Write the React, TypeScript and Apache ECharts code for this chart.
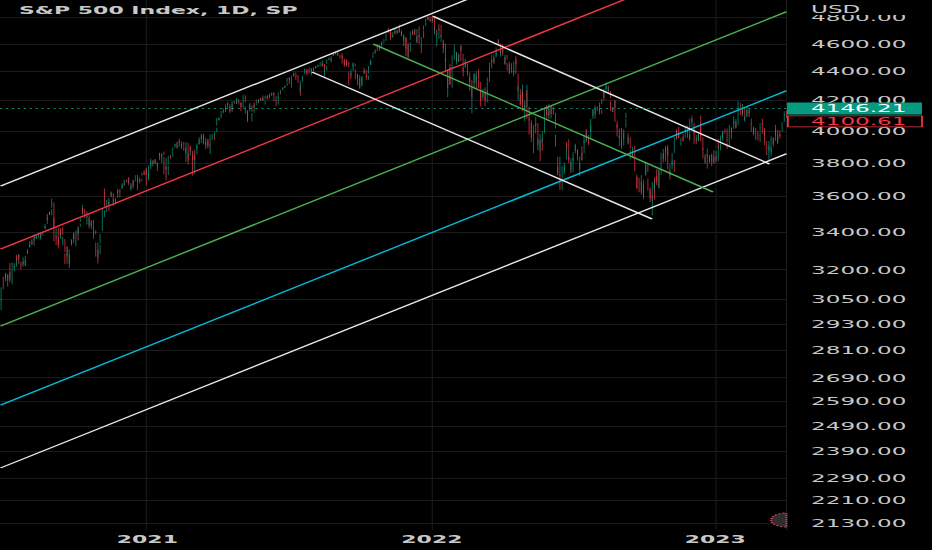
import React, { useEffect, useRef } from "react";
import * as echarts from "echarts";

// ---------- page geometry (the reference picture is stretched horizontally) ----------
const PAGE_W = 932;
const PAGE_H = 550;
const STRETCH_X = 2.2;
const INNER_W = PAGE_W / STRETCH_X;
const PLOT_W = 787 / STRETCH_X;
const GRID_RIGHT = INNER_W - PLOT_W;
const GRID_BOTTOM = 20;

// ---------- texts ----------
const chartTitle = "S&P 500 Index, 1D, SP";
const currency = "USD";

// ---------- calendar ----------
const firstDay = "2020-06-29";
const lastDay = "2023-04-04";
const holidays = [
  "2020-07-03", "2020-09-07", "2020-11-26", "2020-12-25",
  "2021-01-01", "2021-01-18", "2021-02-15", "2021-04-02", "2021-05-31", "2021-07-05", "2021-09-06", "2021-11-25", "2021-12-24",
  "2022-01-17", "2022-02-21", "2022-04-15", "2022-05-30", "2022-06-20", "2022-07-04", "2022-09-05", "2022-11-24", "2022-12-26",
  "2023-01-02", "2023-01-16", "2023-02-20",
];

// ---------- y axis ----------
const yTickValues = [2130, 2210, 2290, 2390, 2490, 2590, 2690, 2810, 2930, 3050, 3200, 3400, 3600, 3800, 4000, 4200, 4400, 4600, 4800];
const yMinPrice = 2106;
const yMaxPrice = 4937;
const quotePrice = 4146.21;
const lastClose = 4100.61;

// ---------- daily candles [open, high, low, close] ----------
const jun2020 = [[3018,3053,2999,3053],[3050,3111,3047,3100]];
const jul2020 = [[3105,3128,3101,3116],[3143,3165,3124,3130],[3155,3182,3155,3179],[3166,3184,3142,3145],[3154,3172,3145,3169],[3176,3179,3115,3152],[3152,3187,3136,3185],[3205,3235,3150,3155],[3141,3201,3127,3197],[3225,3238,3201,3227],[3208,3221,3193,3216],[3224,3234,3209,3225],[3224,3259,3216,3251],[3269,3277,3247,3257],[3255,3279,3252,3276],[3271,3280,3229,3236],[3219,3228,3201,3216],[3227,3242,3225,3239],[3234,3243,3216,3218],[3228,3264,3228,3258],[3232,3250,3220,3246],[3270,3272,3220,3271]];
const aug2020 = [[3288,3302,3284,3295],[3289,3307,3283,3306],[3317,3331,3317,3327],[3323,3351,3318,3349],[3341,3353,3329,3352],[3357,3364,3336,3360],[3370,3381,3327,3333],[3356,3387,3355,3380],[3372,3387,3363,3373],[3368,3378,3362,3373],[3380,3387,3379,3381],[3388,3396,3371,3390],[3392,3399,3369,3375],[3360,3391,3358,3385],[3386,3399,3380,3397],[3418,3432,3414,3431],[3435,3444,3422,3443],[3449,3481,3444,3478],[3485,3501,3468,3484],[3495,3510,3495,3508],[3509,3514,3494,3500]];
const sep2020 = [[3507,3528,3494,3526],[3543,3588,3535,3580],[3565,3565,3427,3455],[3453,3479,3350,3427],[3371,3379,3329,3331],[3370,3424,3367,3399],[3412,3425,3329,3339],[3353,3368,3311,3341],[3364,3402,3364,3383],[3407,3420,3385,3401],[3411,3428,3384,3385],[3346,3376,3328,3357],[3357,3362,3292,3319],[3285,3286,3229,3281],[3295,3320,3270,3315],[3320,3324,3232,3237],[3226,3279,3209,3247],[3236,3306,3228,3298],[3334,3361,3334,3351],[3350,3357,3327,3335],[3341,3393,3340,3363]];
const oct2020 = [[3385,3397,3361,3380],[3339,3370,3323,3348],[3367,3409,3367,3409],[3408,3431,3354,3361],[3385,3426,3385,3419],[3434,3447,3428,3447],[3459,3482,3456,3477],[3500,3550,3496,3535],[3534,3534,3500,3512],[3515,3528,3477,3489],[3453,3489,3441,3483],[3493,3515,3484,3484],[3493,3502,3420,3427],[3439,3476,3435,3443],[3439,3465,3433,3436],[3438,3461,3415,3453],[3464,3466,3441,3465],[3441,3441,3364,3401],[3404,3409,3388,3391],[3342,3342,3268,3271],[3278,3342,3260,3310],[3293,3305,3233,3270]];
const nov2020 = [[3296,3330,3280,3310],[3337,3389,3337,3370],[3406,3486,3405,3444],[3485,3529,3485,3510],[3508,3521,3484,3509],[3583,3646,3543,3551],[3544,3558,3511,3545],[3564,3581,3557,3573],[3562,3569,3518,3537],[3552,3593,3552,3585],[3600,3629,3600,3627],[3611,3624,3595,3610],[3612,3619,3567,3568],[3559,3585,3543,3582],[3580,3582,3556,3558],[3567,3590,3553,3578],[3594,3643,3592,3635],[3635,3636,3617,3630],[3639,3644,3630,3638],[3635,3635,3594,3622]];
const dec2020 = [[3645,3678,3645,3662],[3654,3670,3645,3669],[3669,3682,3661,3666],[3671,3699,3670,3699],[3695,3698,3684,3692],[3683,3708,3678,3702],[3706,3713,3665,3673],[3659,3678,3645,3668],[3656,3665,3634,3663],[3676,3698,3646,3647],[3667,3695,3660,3695],[3697,3711,3688,3702],[3713,3725,3710,3722],[3722,3727,3685,3709],[3684,3703,3636,3694],[3698,3698,3676,3687],[3693,3711,3689,3690],[3694,3703,3689,3703],[3723,3740,3723,3735],[3751,3756,3724,3727],[3736,3744,3730,3732],[3734,3760,3726,3756]];
const jan2021 = [[3764,3770,3663,3701],[3699,3738,3695,3726],[3712,3784,3705,3748],[3764,3811,3764,3804],[3815,3827,3784,3825],[3803,3818,3795,3799],[3801,3811,3777,3801],[3802,3820,3792,3810],[3815,3823,3792,3795],[3789,3796,3750,3768],[3781,3804,3780,3798],[3817,3860,3816,3852],[3857,3862,3845,3853],[3844,3852,3831,3841],[3851,3859,3798,3855],[3862,3870,3847,3849],[3836,3836,3732,3750],[3756,3830,3756,3787],[3778,3778,3694,3714]];
const feb2021 = [[3732,3784,3726,3774],[3791,3843,3791,3826],[3840,3848,3822,3830],[3837,3872,3836,3872],[3878,3894,3874,3887],[3893,3916,3892,3915],[3910,3919,3907,3911],[3921,3932,3889,3910],[3916,3925,3890,3916],[3911,3935,3900,3934],[3939,3950,3923,3933],[3918,3933,3900,3931],[3916,3916,3885,3913],[3921,3931,3905,3907],[3885,3902,3874,3877],[3857,3896,3805,3881],[3874,3929,3859,3925],[3915,3925,3815,3829],[3839,3862,3789,3811]];
const mar2021 = [[3842,3902,3842,3901],[3903,3906,3868,3870],[3863,3873,3819,3820],[3818,3843,3723,3768],[3793,3851,3730,3842],[3844,3881,3818,3821],[3851,3904,3851,3875],[3891,3918,3885,3898],[3915,3960,3915,3939],[3924,3944,3915,3943],[3942,3970,3923,3969],[3973,3982,3949,3963],[3949,3983,3935,3974],[3953,3970,3914,3915],[3913,3930,3886,3913],[3916,3956,3910,3940],[3938,3949,3901,3911],[3920,3942,3889,3889],[3880,3919,3854,3910],[3918,3978,3908,3975],[3969,3981,3943,3971],[3963,3968,3944,3959],[3968,3994,3965,3973]];
const apr2021 = [[3993,4021,3993,4020],[4034,4084,4034,4078],[4075,4087,4069,4074],[4074,4084,4068,4080],[4090,4099,4083,4097],[4097,4129,4096,4129],[4124,4131,4115,4128],[4130,4148,4124,4142],[4141,4152,4123,4125],[4140,4174,4140,4170],[4174,4192,4171,4185],[4180,4181,4151,4163],[4160,4160,4118,4135],[4128,4175,4126,4173],[4171,4180,4123,4135],[4138,4195,4138,4180],[4185,4194,4182,4188],[4188,4194,4180,4187],[4185,4201,4181,4184],[4206,4218,4177,4211],[4198,4198,4174,4181]];
const may2021 = [[4191,4210,4188,4192],[4180,4187,4128,4165],[4178,4187,4158,4168],[4170,4202,4148,4202],[4211,4238,4202,4233],[4229,4236,4188,4189],[4151,4162,4111,4153],[4130,4135,4057,4063],[4074,4131,4069,4113],[4130,4183,4130,4174],[4169,4172,4143,4164],[4165,4169,4125,4128],[4075,4117,4061,4116],[4122,4172,4118,4160],[4168,4188,4151,4156],[4170,4209,4168,4197],[4205,4213,4182,4188],[4192,4203,4189,4196],[4201,4213,4197,4201],[4211,4219,4203,4204]];
const jun2021 = [[4216,4234,4197,4202],[4207,4218,4198,4209],[4191,4198,4173,4193],[4207,4233,4206,4230],[4229,4232,4215,4227],[4233,4237,4207,4227],[4232,4238,4219,4220],[4229,4249,4220,4239],[4242,4248,4233,4247],[4248,4255,4234,4255],[4255,4257,4239,4246],[4248,4251,4196,4224],[4220,4233,4203,4222],[4204,4204,4164,4166],[4174,4226,4173,4224],[4224,4255,4217,4246],[4250,4256,4241,4242],[4256,4272,4255,4266],[4275,4286,4271,4281],[4285,4292,4275,4291],[4293,4300,4287,4291],[4291,4302,4287,4298]];
const jul2021 = [[4301,4320,4300,4320],[4326,4355,4323,4352],[4356,4357,4314,4344],[4351,4362,4340,4358],[4321,4330,4289,4320],[4329,4372,4329,4369],[4372,4387,4365,4385],[4381,4393,4368,4369],[4381,4394,4365,4375],[4369,4370,4341,4361],[4367,4376,4321,4327],[4297,4301,4233,4259],[4265,4337,4259,4324],[4331,4359,4329,4359],[4361,4370,4350,4368],[4382,4415,4382,4412],[4409,4422,4405,4422],[4416,4416,4373,4401],[4403,4416,4387,4401],[4408,4430,4408,4419],[4396,4412,4386,4395]];
const aug2021 = [[4407,4422,4385,4387],[4392,4423,4373,4423],[4416,4416,4400,4402],[4408,4430,4408,4430],[4429,4440,4423,4437],[4437,4439,4425,4432],[4436,4446,4431,4436],[4442,4449,4437,4447],[4447,4461,4436,4460],[4464,4468,4461,4468],[4461,4480,4438,4480],[4462,4462,4435,4449],[4441,4455,4400,4401],[4383,4418,4367,4406],[4410,4444,4407,4442],[4454,4489,4454,4480],[4484,4493,4482,4486],[4490,4501,4485,4496],[4493,4495,4468,4470],[4476,4513,4474,4509],[4513,4538,4513,4529],[4529,4532,4516,4523]];
const sep2021 = [[4529,4537,4522,4524],[4534,4545,4527,4537],[4532,4541,4521,4535],[4535,4535,4513,4520],[4518,4521,4493,4514],[4514,4529,4493,4493],[4506,4520,4457,4459],[4474,4492,4446,4469],[4479,4485,4435,4443],[4447,4486,4438,4481],[4477,4485,4448,4474],[4469,4471,4428,4433],[4402,4402,4305,4358],[4374,4394,4347,4354],[4368,4416,4368,4396],[4406,4466,4406,4449],[4439,4458,4431,4455],[4442,4457,4437,4443],[4419,4419,4347,4353],[4363,4385,4356,4360],[4375,4382,4306,4308]];
const oct2021 = [[4317,4375,4289,4357],[4349,4355,4279,4301],[4309,4369,4309,4346],[4320,4365,4293,4364],[4383,4429,4383,4399],[4406,4412,4386,4391],[4386,4415,4361,4361],[4368,4375,4342,4351],[4359,4373,4342,4364],[4386,4439,4386,4438],[4448,4475,4448,4471],[4464,4487,4448,4486],[4497,4520,4496,4520],[4524,4540,4524,4537],[4533,4549,4526,4549],[4546,4560,4538,4545],[4553,4572,4547,4567],[4579,4598,4570,4575],[4580,4585,4551,4551],[4562,4597,4562,4596],[4573,4608,4573,4605]];
const nov2021 = [[4610,4621,4595,4614],[4613,4636,4604,4631],[4630,4664,4623,4660],[4662,4683,4662,4680],[4699,4718,4681,4697],[4701,4714,4694,4702],[4707,4708,4670,4685],[4670,4684,4630,4646],[4659,4664,4648,4649],[4656,4688,4650,4683],[4689,4697,4672,4682],[4680,4714,4679,4701],[4701,4701,4684,4689],[4700,4708,4672,4704],[4708,4718,4691,4698],[4712,4744,4683,4683],[4679,4692,4659,4691],[4675,4702,4659,4701],[4664,4664,4585,4595],[4628,4672,4626,4655],[4640,4647,4565,4567]];
const dec2021 = [[4602,4652,4510,4513],[4504,4595,4504,4577],[4589,4608,4495,4538],[4548,4613,4540,4592],[4631,4694,4631,4686],[4691,4705,4674,4701],[4688,4695,4665,4668],[4688,4713,4670,4712],[4710,4710,4667,4669],[4642,4660,4606,4635],[4637,4712,4612,4710],[4719,4732,4650,4669],[4652,4667,4600,4621],[4587,4588,4532,4568],[4595,4651,4583,4649],[4650,4698,4645,4697],[4703,4740,4703,4725],[4733,4791,4733,4791],[4795,4808,4781,4786],[4789,4805,4778,4793],[4795,4809,4776,4778],[4776,4787,4766,4766]];
const jan2022 = [[4778,4797,4759,4797],[4804,4818,4774,4794],[4788,4798,4700,4701],[4693,4726,4671,4696],[4697,4707,4663,4677],[4655,4673,4582,4670],[4670,4714,4638,4713],[4728,4749,4702,4726],[4734,4744,4651,4660],[4637,4666,4614,4663],[4632,4632,4568,4577],[4588,4612,4531,4533],[4548,4602,4474,4483],[4472,4495,4396,4398],[4357,4418,4222,4410],[4366,4411,4287,4357],[4409,4454,4309,4350],[4381,4428,4309,4327],[4337,4432,4287,4432],[4432,4517,4421,4516]];
const feb2022 = [[4519,4550,4484,4546],[4566,4595,4544,4589],[4535,4542,4470,4477],[4482,4540,4451,4501],[4505,4521,4471,4484],[4480,4531,4466,4522],[4548,4590,4548,4587],[4553,4589,4476,4504],[4506,4527,4402,4419],[4412,4427,4365,4401],[4430,4473,4429,4472],[4456,4490,4430,4475],[4456,4456,4373,4381],[4385,4394,4327,4349],[4332,4362,4268,4305],[4324,4340,4221,4226],[4155,4295,4115,4288],[4298,4385,4287,4385],[4354,4389,4318,4374]];
const mar2022 = [[4364,4375,4279,4306],[4322,4401,4322,4387],[4401,4417,4345,4364],[4342,4343,4284,4329],[4328,4329,4199,4201],[4203,4276,4157,4171],[4224,4279,4224,4278],[4253,4258,4206,4260],[4279,4292,4200,4204],[4203,4248,4162,4173],[4188,4272,4188,4262],[4288,4358,4251,4358],[4346,4412,4330,4412],[4392,4465,4390,4463],[4462,4481,4424,4461],[4470,4522,4470,4512],[4494,4501,4456,4457],[4470,4520,4466,4520],[4523,4546,4501,4543],[4541,4575,4517,4576],[4602,4637,4589,4632],[4628,4628,4588,4603],[4600,4603,4530,4530]];
const apr2022 = [[4540,4549,4507,4546],[4547,4593,4536,4583],[4572,4593,4514,4526],[4495,4503,4451,4481],[4474,4521,4450,4501],[4494,4521,4485,4488],[4462,4464,4408,4413],[4437,4471,4381,4397],[4397,4453,4392,4447],[4449,4460,4392,4393],[4386,4410,4367,4392],[4390,4471,4390,4463],[4473,4489,4455,4459],[4490,4513,4384,4394],[4385,4385,4267,4272],[4255,4299,4201,4297],[4279,4279,4175,4176],[4187,4240,4162,4184],[4223,4309,4188,4288],[4253,4269,4129,4132]];
const may2022 = [[4130,4169,4063,4155],[4160,4200,4145,4175],[4181,4308,4156,4300],[4271,4271,4077,4147],[4128,4158,4068,4123],[4082,4082,3976,3991],[4035,4068,3958,4001],[3991,4050,3928,3935],[3903,3964,3859,3930],[3963,4039,3963,4024],[4013,4046,3983,4008],[4052,4090,4033,4088],[4052,4052,3912,3923],[3899,3946,3877,3901],[3927,3944,3810,3901],[3919,3982,3875,3974],[3943,3955,3875,3941],[3930,3999,3925,3979],[3985,4076,3985,4058],[4077,4158,4077,4158],[4151,4168,4104,4132]];
const jun2022 = [[4149,4166,4074,4101],[4095,4177,4075,4177],[4137,4143,4098,4109],[4135,4169,4110,4121],[4097,4164,4081,4161],[4148,4160,4107,4116],[4101,4119,4017,4018],[3975,3975,3900,3901],[3838,3838,3734,3750],[3763,3778,3725,3735],[3764,3838,3722,3790],[3729,3729,3639,3667],[3665,3708,3637,3675],[3709,3779,3709,3765],[3733,3784,3729,3760],[3774,3802,3743,3796],[3821,3913,3821,3912],[3920,3928,3889,3901],[3913,3946,3820,3821],[3825,3837,3799,3819],[3785,3807,3738,3785]];
const jul2022 = [[3782,3829,3753,3825],[3792,3832,3743,3831],[3831,3865,3811,3845],[3858,3910,3858,3903],[3889,3918,3875,3899],[3880,3880,3847,3855],[3855,3884,3814,3819],[3774,3839,3763,3802],[3764,3796,3722,3791],[3818,3863,3817,3863],[3883,3903,3813,3831],[3860,3939,3860,3937],[3936,3975,3922,3960],[3955,3999,3927,3999],[4000,4013,3939,3962],[3965,3975,3945,3967],[3953,3954,3910,3921],[3951,4039,3951,4024],[4027,4079,3992,4073],[4087,4140,4079,4130]];
const aug2022 = [[4113,4144,4097,4119],[4104,4141,4080,4091],[4107,4167,4107,4155],[4154,4161,4129,4152],[4116,4152,4107,4145],[4156,4187,4128,4140],[4133,4137,4112,4122],[4181,4211,4177,4210],[4227,4258,4201,4208],[4225,4280,4218,4280],[4269,4301,4262,4297],[4290,4325,4278,4305],[4281,4302,4253,4275],[4273,4292,4263,4284],[4266,4266,4218,4228],[4195,4195,4131,4138],[4134,4150,4123,4128],[4126,4157,4122,4141],[4154,4200,4148,4199],[4198,4203,4057,4058],[4034,4062,4017,4031],[4041,4044,3965,3986],[4000,4015,3954,3955]];
const sep2022 = [[3937,3970,3903,3967],[3994,4018,3907,3924],[3930,3943,3886,3908],[3910,3987,3906,3980],[3959,4010,3945,4006],[4023,4077,4023,4067],[4084,4119,4084,4110],[3983,3986,3921,3932],[3940,3961,3915,3946],[3932,3959,3889,3901],[3830,3880,3823,3873],[3849,3900,3839,3900],[3875,3876,3828,3856],[3871,3907,3789,3790],[3782,3790,3749,3758],[3727,3727,3648,3693],[3682,3716,3644,3655],[3686,3710,3624,3647],[3652,3726,3623,3720],[3687,3687,3610,3640],[3633,3671,3584,3586]];
const oct2022 = [[3609,3698,3604,3678],[3727,3791,3727,3791],[3753,3807,3722,3783],[3772,3798,3744,3745],[3706,3706,3633,3640],[3644,3653,3588,3612],[3597,3641,3569,3589],[3590,3608,3572,3577],[3520,3685,3491,3670],[3690,3713,3582,3583],[3638,3683,3638,3677],[3746,3762,3687,3720],[3696,3719,3666,3695],[3689,3762,3653,3666],[3657,3757,3647,3752],[3763,3799,3726,3797],[3799,3862,3799,3859],[3825,3886,3824,3830],[3834,3859,3803,3807],[3809,3905,3808,3901],[3881,3893,3863,3872]];
const nov2022 = [[3901,3911,3843,3856],[3853,3894,3759,3759],[3734,3751,3699,3720],[3766,3796,3722,3771],[3781,3813,3763,3807],[3818,3860,3787,3828],[3810,3818,3745,3749],[3860,3959,3860,3956],[3964,4001,3945,3993],[3977,4009,3948,3957],[4007,4028,3954,3992],[3977,3984,3955,3959],[3919,3955,3906,3947],[3966,3979,3935,3965],[3957,3962,3933,3950],[3965,4005,3956,4004],[4001,4034,3998,4028],[4024,4035,4021,4026],[4006,4013,3956,3964],[3964,3976,3937,3958],[3957,4080,3946,4080]];
const dec2022 = [[4087,4101,4056,4077],[4040,4080,4026,4072],[4053,4053,3984,3999],[3996,4002,3918,3941],[3937,3956,3918,3933],[3947,3974,3935,3963],[3954,3977,3933,3934],[3940,3991,3937,3991],[4069,4101,3935,4019],[4016,4053,3965,3996],[3958,3959,3880,3896],[3890,3890,3828,3852],[3853,3854,3800,3818],[3810,3839,3795,3821],[3839,3889,3839,3879],[3853,3853,3765,3822],[3815,3846,3797,3845],[3843,3846,3813,3829],[3829,3848,3780,3783],[3806,3858,3806,3849],[3829,3839,3800,3839]];
const jan2023 = [[3853,3878,3794,3825],[3840,3873,3815,3853],[3839,3840,3802,3808],[3823,3907,3809,3895],[3910,3951,3892,3893],[3888,3919,3877,3919],[3932,3970,3928,3970],[3977,3997,3937,3983],[3960,4003,3954,3999],[3999,4015,3984,3991],[4003,4015,3926,3929],[3911,3922,3886,3899],[3909,3973,3899,3973],[3979,4039,3972,4020],[4001,4024,3990,4017],[3982,4019,3950,4016],[4036,4061,4013,4060],[4054,4095,4048,4071],[4049,4063,4016,4018],[4020,4077,4020,4077]];
const feb2023 = [[4071,4148,4037,4119],[4158,4195,4141,4180],[4137,4183,4124,4136],[4120,4125,4104,4111],[4106,4177,4097,4164],[4153,4157,4111,4118],[4144,4157,4069,4082],[4071,4094,4060,4090],[4101,4138,4092,4137],[4116,4160,4094,4136],[4119,4148,4113,4148],[4114,4136,4089,4090],[4077,4081,4048,4079],[4052,4052,3995,3997],[4002,4017,3982,3991],[4019,4029,3972,4012],[3973,3978,3943,3970],[3992,4019,3977,3982],[3977,3998,3969,3970]];
const mar2023 = [[3964,3971,3939,3951],[3938,3990,3929,3981],[3998,4048,3995,4046],[4055,4079,4044,4048],[4049,4051,3981,3986],[3988,4002,3975,3992],[3998,4018,3909,3919],[3912,3935,3847,3862],[3835,3906,3809,3855],[3895,3937,3874,3920],[3876,3895,3839,3892],[3878,3965,3864,3960],[3958,3958,3902,3917],[3917,3957,3917,3951],[3975,4009,3972,4003],[4003,4039,3937,3937],[3960,4007,3920,3948],[3939,3973,3918,3971],[3982,4004,3970,3978],[3974,3979,3952,3971],[3999,4031,3996,4028],[4046,4057,4032,4051],[4056,4110,4056,4109]];
const apr2023 = [[4102,4128,4100,4125],[4129,4133,4086,4100.61]];

const months = [
  jun2020, jul2020, aug2020, sep2020, oct2020, nov2020, dec2020,
  jan2021, feb2021, mar2021, apr2021, may2021, jun2021, jul2021, aug2021, sep2021, oct2021, nov2021, dec2021,
  jan2022, feb2022, mar2022, apr2022, may2022, jun2022, jul2022, aug2022, sep2022, oct2022, nov2022, dec2022,
  jan2023, feb2023, mar2023, apr2023,
];

// ---------- drawn trend lines: [date, price] end points ----------
const risingUpper = [["2020-06-29", 3661], ["2023-04-04", 6068]];
const risingRed = [["2020-06-29", 3308], ["2023-04-04", 5483]];
const risingMedian = [["2020-06-29", 2923], ["2023-04-04", 4845]];
const risingCyan = [["2020-06-29", 2574], ["2023-04-04", 4267]];
const risingLower = [["2020-06-29", 2327], ["2023-04-04", 3856]];
const fallingUpper = [["2022-01-04", 4810], ["2023-03-14", 3793]];
const fallingMedian = [["2021-10-19", 4600], ["2022-12-29", 3626]];
const fallingLower = [["2021-08-03", 4397], ["2022-10-12", 3472]];

// ---------- styles ----------
const UP = "#089981";
const DOWN = "#f23645";
const WHITE = "#e8e8e8";
const RED = "#f23645";
const GREEN = "#4caf50";
const CYAN = "#00bcd4";
const TEXT = "#c8c8c8";
const GRIDLINE = "#1b1b1b";
const FONT = "DejaVu Sans";

const trendLines = [
  { pts: risingUpper, color: WHITE },
  { pts: risingRed, color: RED },
  { pts: risingMedian, color: GREEN },
  { pts: risingCyan, color: CYAN },
  { pts: risingLower, color: WHITE },
  { pts: fallingUpper, color: WHITE },
  { pts: fallingMedian, color: GREEN },
  { pts: fallingLower, color: WHITE },
];

function tradingDays(): string[] {
  const out: string[] = [];
  const hol = new Set(holidays);
  const [y0, m0, d0] = firstDay.split("-").map(Number);
  const [y1, m1, d1] = lastDay.split("-").map(Number);
  let t = Date.UTC(y0, m0 - 1, d0);
  const end = Date.UTC(y1, m1 - 1, d1);
  while (t <= end) {
    const dt = new Date(t);
    const wd = dt.getUTCDay();
    const s = dt.toISOString().slice(0, 10);
    if (wd !== 0 && wd !== 6 && !hol.has(s)) out.push(s);
    t += 86400000;
  }
  return out;
}

export default function App() {
  const ref = useRef<HTMLDivElement>(null);

  useEffect(() => {
    if (!ref.current) return;
    const chart = echarts.init(ref.current, null, { renderer: "svg", width: INNER_W, height: PAGE_H });

    const dates = tradingDays();
    const rows = ([] as number[][]).concat(...months);
    const candleData = rows.map((r) => [Math.log(r[0]), Math.log(r[3]), Math.log(r[2]), Math.log(r[1])]);
    const yearStart = new Set<number>();
    for (let i = 1; i < dates.length; i++) {
      if (dates[i].slice(0, 4) !== dates[i - 1].slice(0, 4)) yearStart.add(i);
    }
    const logTicks = yTickValues.map((v) => Math.log(v));

    const lineSeries = trendLines.map((l) => ({
      type: "line",
      data: l.pts.map((p) => [p[0], Math.log(p[1] as number)]),
      symbol: "none",
      silent: true,
      z: 3,
      lineStyle: { color: l.color, width: 1.15 },
    }));

    chart.setOption({
      animation: false,
      backgroundColor: "#000000",
      title: {
        text: chartTitle,
        left: 19 / STRETCH_X,
        top: 5,
        padding: 0,
        textStyle: { color: TEXT, fontSize: 10, fontWeight: "bold", fontFamily: FONT },
      },
      grid: { left: 0, right: GRID_RIGHT, top: 0, bottom: GRID_BOTTOM },
      xAxis: {
        type: "category",
        data: dates,
        boundaryGap: true,
        axisLine: { show: false },
        axisTick: { show: false },
        axisLabel: {
          interval: (i: number) => yearStart.has(i),
          formatter: (v: string) => v.slice(0, 4),
          color: TEXT,
          fontSize: 10,
          fontWeight: "bold",
          fontFamily: FONT,
          margin: 4,
        },
        splitLine: {
          show: true,
          interval: (i: number) => yearStart.has(i),
          lineStyle: { color: GRIDLINE, width: 0.5 },
        },
      },
      yAxis: {
        type: "value",
        position: "right",
        min: Math.log(yMinPrice),
        max: Math.log(yMaxPrice),
        axisLine: { show: false },
        axisTick: { show: false, customValues: logTicks },
        axisLabel: {
          customValues: logTicks,
          formatter: (v: number) => Math.exp(v).toFixed(2),
          color: TEXT,
          fontSize: 10.5,
          fontFamily: FONT,
          margin: (811 - 787) / STRETCH_X,
        },
        splitLine: { show: true, lineStyle: { color: GRIDLINE, width: 1 } },
      },
      series: [
        {
          type: "candlestick",
          data: candleData,
          large: false,
          barWidth: "85%",
          z: 2,
          itemStyle: { color: UP, color0: DOWN, borderColor: UP, borderColor0: DOWN, borderWidth: 0.45 },
          markLine: {
            silent: true,
            symbol: ["none", "none"],
            label: { show: false },
            lineStyle: { color: UP, width: 1, type: [1, 1.7], opacity: 0.9 },
            data: [{ yAxis: Math.log(quotePrice) }],
          },
        },
        ...lineSeries,
      ],
    });

    const yQuote = chart.convertToPixel({ yAxisIndex: 0 }, Math.log(quotePrice)) as number;
    const yClose = (chart.convertToPixel({ yAxisIndex: 0 }, Math.log(lastClose)) as number) + 6;
    const boxX = PLOT_W;
    const boxW = 922 / STRETCH_X - PLOT_W;
    const textX = 811 / STRETCH_X;
    const iconX = 786.5 / STRETCH_X;

    chart.setOption({
      graphic: [
        { type: "rect", z: 100, shape: { x: PLOT_W + 1, y: 0, width: INNER_W - PLOT_W, height: 15 }, style: { fill: "#000000" } },
        { type: "text", z: 101, x: textX, y: 9, style: { text: currency, fill: TEXT, fontSize: 10.5, fontFamily: FONT, verticalAlign: "middle" } },
        { type: "rect", z: 100, shape: { x: boxX, y: yQuote - 6, width: boxW, height: 12 }, style: { fill: UP } },
        { type: "text", z: 101, x: textX, y: yQuote, style: { text: quotePrice.toFixed(2), fill: "#ffffff", fontSize: 10.5, fontFamily: FONT, verticalAlign: "middle" } },
        { type: "rect", z: 100, shape: { x: boxX + 0.4, y: yClose - 5.5, width: boxW - 0.4, height: 11 }, style: { fill: "#000000", stroke: DOWN, lineWidth: 0.8 } },
        { type: "text", z: 101, x: textX, y: yClose, style: { text: lastClose.toFixed(2), fill: DOWN, fontSize: 10.5, fontFamily: FONT, verticalAlign: "middle" } },
        {
          type: "sector",
          z: 100,
          shape: { cx: iconX, cy: 520, r: 7, r0: 0, startAngle: Math.PI / 2, endAngle: (Math.PI * 3) / 2, clockwise: true },
          style: { fill: "#2e2e2e", stroke: "#e0506e", lineWidth: 0.9, lineDash: [1, 1] },
        },
      ],
    });

    return () => chart.dispose();
  }, []);

  return (
    <div style={{ position: "fixed", left: 0, top: 0, width: PAGE_W, height: PAGE_H, overflow: "hidden", background: "#000" }}>
      <div
        ref={ref}
        style={{ width: INNER_W, height: PAGE_H, transform: `scaleX(${STRETCH_X})`, transformOrigin: "0 0" }}
      />
    </div>
  );
}
